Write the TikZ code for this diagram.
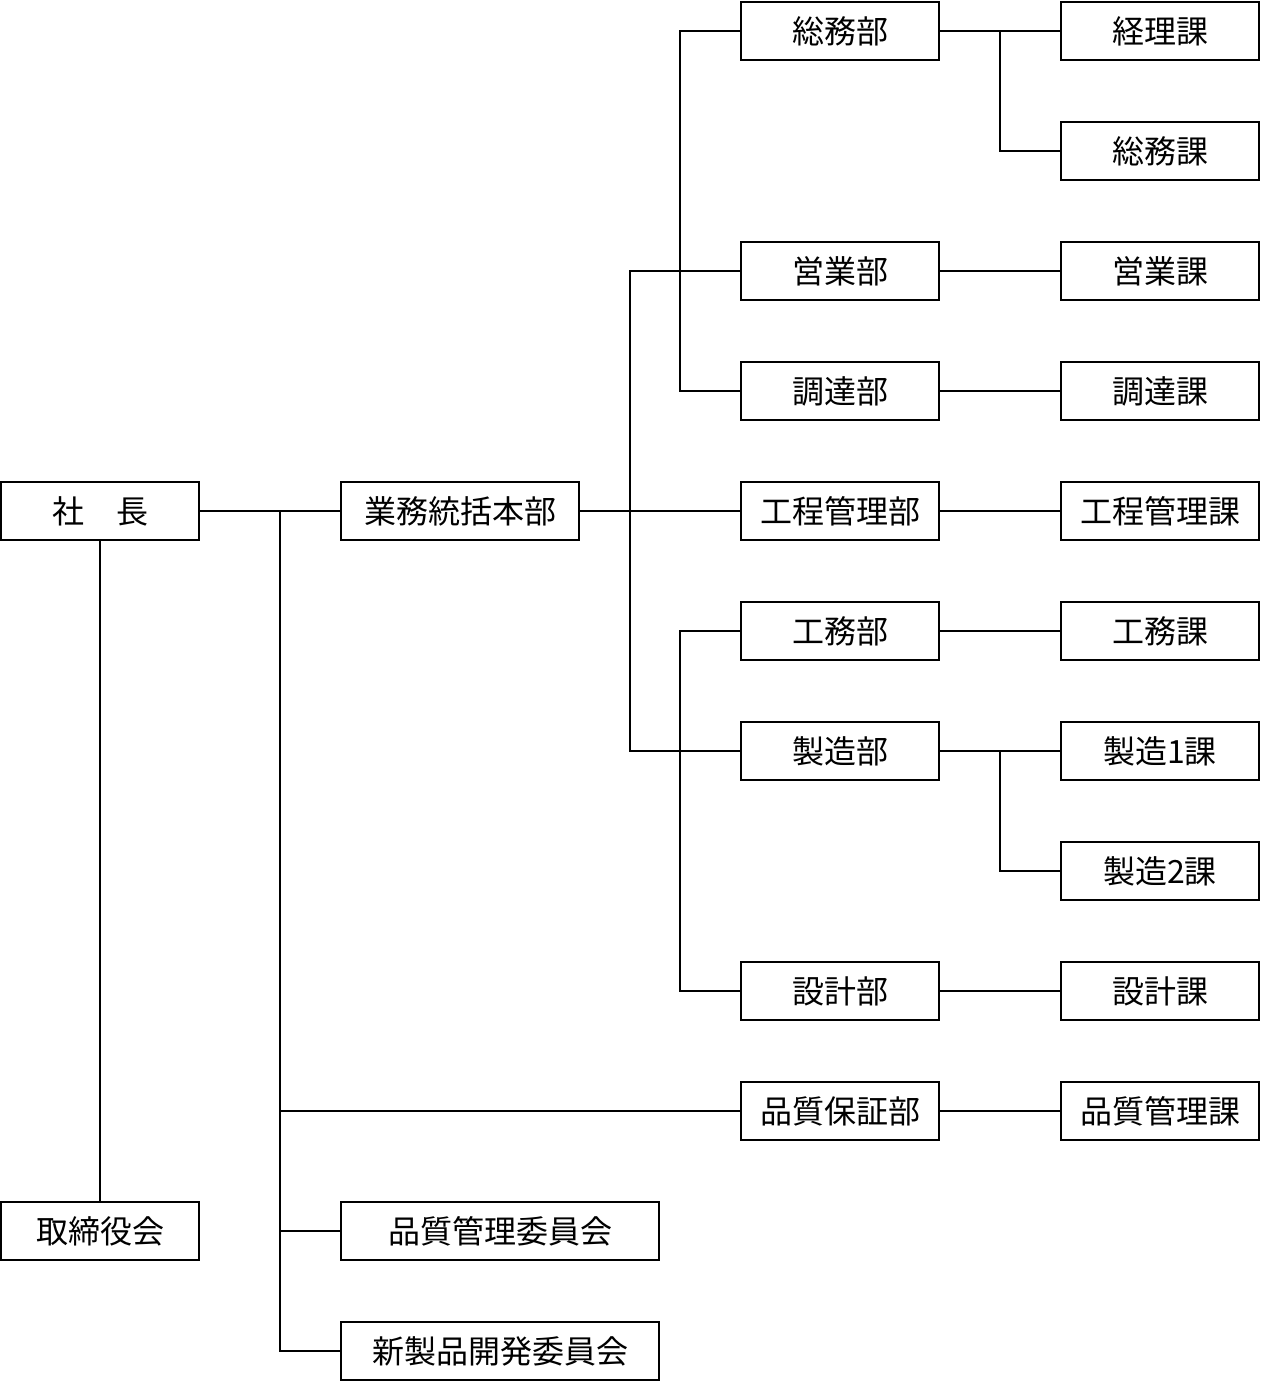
\documentclass[tikz,border=0pt]{standalone}
\usepackage{fontspec}
\newfontfamily\jp{Noto Sans CJK JP}
\begin{document}
\begin{tikzpicture}[x=0.5pt,y=-0.5pt,
  box/.style={draw, line width=1pt, inner sep=0pt, minimum height=29pt, minimum width=99pt, font=\jp\fontsize{16}{17}\selectfont},
  ln/.style={line width=1pt}]
\useasboundingbox (0,0) rectangle (1260,1381);
% left
\node[box] (shacho) at (100,511) {社　長};
\node[box] (tori) at (100,1231) {取締役会};
\node[box, minimum width=119pt] (honbu) at (460,511) {業務統括本部};
\node[box, minimum width=159pt] (qcc) at (500,1231) {品質管理委員会};
\node[box, minimum width=159pt] (npd) at (500,1351) {新製品開発委員会};
% departments
\node[box] (somu) at (840,31) {総務部};
\node[box] (eigyo) at (840,271) {営業部};
\node[box] (chotatsu) at (840,391) {調達部};
\node[box] (koutei) at (840,511) {工程管理部};
\node[box] (koumu) at (840,631) {工務部};
\node[box] (seizo) at (840,751) {製造部};
\node[box] (sekkei) at (840,991) {設計部};
\node[box] (hosho) at (840,1111) {品質保証部};
% sections
\node[box] (keiri) at (1160,31) {経理課};
\node[box] (somuka) at (1160,151) {総務課};
\node[box] (eigyoka) at (1160,271) {営業課};
\node[box] (chotatsuka) at (1160,391) {調達課};
\node[box] (kouteika) at (1160,511) {工程管理課};
\node[box] (koumuka) at (1160,631) {工務課};
\node[box] (seizo1) at (1160,751) {製造1課};
\node[box] (seizo2) at (1160,871) {製造2課};
\node[box] (sekkeika) at (1160,991) {設計課};
\node[box] (qcka) at (1160,1111) {品質管理課};
% connectors
\draw[ln] (shacho.east) -- (honbu.west);
\draw[ln] (shacho.south) -- (tori.north);
\coordinate (tr) at (280,511);
\draw[ln] (tr) |- (hosho.west);
\draw[ln] (tr) |- (qcc.west);
\draw[ln] (tr) |- (npd.west);
\draw[ln] (honbu.east) -- (koutei.west);
\coordinate (hb) at (630,511);
\draw[ln] (hb) |- (eigyo.west);
\draw[ln] (hb) |- (seizo.west);
\coordinate (g1) at (680,271);
\draw[ln] (g1) |- (somu.west);
\draw[ln] (g1) |- (chotatsu.west);
\coordinate (g2) at (680,751);
\draw[ln] (g2) |- (koumu.west);
\draw[ln] (g2) |- (sekkei.west);
\draw[ln] (somu.east) -- (keiri.west);
\coordinate (s1) at (1000,31);
\draw[ln] (s1) |- (somuka.west);
\draw[ln] (eigyo.east) -- (eigyoka.west);
\draw[ln] (chotatsu.east) -- (chotatsuka.west);
\draw[ln] (koutei.east) -- (kouteika.west);
\draw[ln] (koumu.east) -- (koumuka.west);
\draw[ln] (seizo.east) -- (seizo1.west);
\coordinate (s2) at (1000,751);
\draw[ln] (s2) |- (seizo2.west);
\draw[ln] (sekkei.east) -- (sekkeika.west);
\draw[ln] (hosho.east) -- (qcka.west);
\end{tikzpicture}
\end{document}
